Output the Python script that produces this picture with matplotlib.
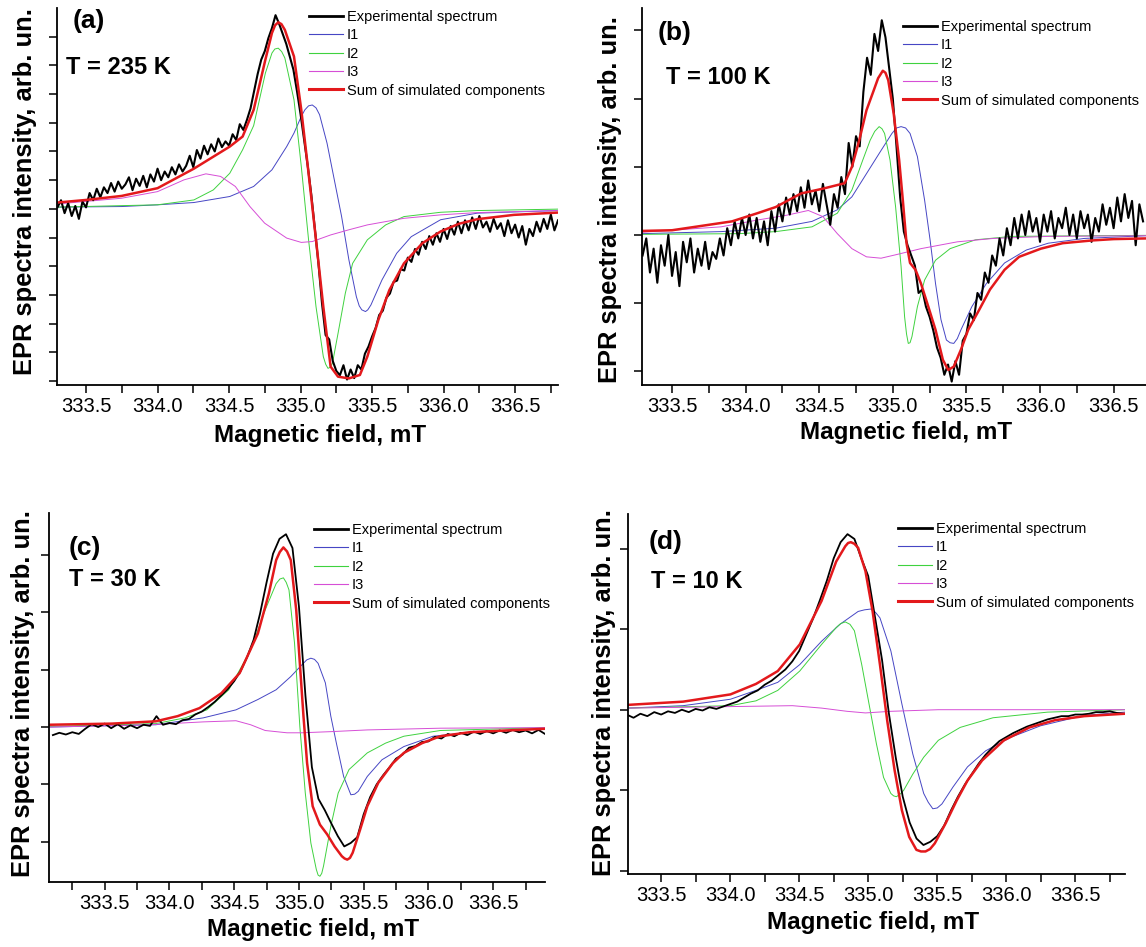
import numpy as np
import matplotlib.pyplot as plt
from matplotlib.ticker import MultipleLocator, NullFormatter

plt.rcParams['font.family'] = ['Liberation Sans', 'DejaVu Sans']

W, H = 1146, 947  # output size in pixels

# colours of the traces
col_exp = 'black'
col_i1 = '#4646c4'
col_i2 = '#3fd23f'
col_i3 = '#d64ed6'
col_sum = '#e3191c'

# ---------------- (a) T = 235 K ----------------
a_exp_range = (333.30, 336.80)
a_exp = [0.05, 0.30, -0.15, 0.20, -0.25, 0.10, -0.35, 0.25, 0.05, 0.55,
         0.30, 0.70, 0.40, 0.75, 0.55, 0.90, 0.60, 0.95, 0.70, 0.85,
         1.10, 0.65, 1.05, 0.80, 1.15, 0.75, 1.20, 0.95, 1.40, 1.00,
         1.30, 1.10, 1.45, 1.20, 1.55, 1.30, 1.50, 1.85, 1.45, 2.05,
         1.75, 2.20, 1.90, 2.25, 2.00, 2.45, 2.15, 2.35, 2.20, 2.60,
         2.40, 2.95, 2.75, 3.10, 3.50, 4.10, 4.70, 5.20, 5.50, 5.95,
         6.30, 6.75, 6.45, 6.10, 5.75, 5.30, 4.85, 4.10, 3.30, 2.40,
         1.50, 0.50, -0.70, -1.90, -3.30, -4.40, -4.55, -5.30, -5.65, -5.80,
         -5.45, -5.95, -5.60, -5.90, -5.45, -5.60, -5.05, -4.80, -4.45, -4.15,
         -3.70, -3.55, -3.10, -2.95, -2.55, -2.50, -2.10, -2.15, -1.70, -1.85,
         -1.40, -1.60, -1.15, -1.40, -0.95, -1.25, -0.85, -1.15, -0.70, -1.05,
         -0.60, -0.90, -0.45, -0.85, -0.40, -0.75, -0.30, -0.70, -0.25, -0.65,
         -0.45, -0.80, -0.35, -0.70, -0.50, -0.95, -0.40, -0.85, -0.55, -1.00,
         -0.60, -1.25, -0.70, -0.95, -0.45, -0.80, -0.35, -0.70, -0.20, -0.75,
         -0.40]
a_sum_x = [333.300, 333.500, 333.749, 334.000, 334.254, 334.505, 334.595, 334.672, 334.754,
           334.800, 334.822, 334.844, 334.866, 334.890, 334.954, 335.005, 335.056, 335.108,
           335.159, 335.210, 335.262, 335.338, 335.415, 335.467, 335.544, 335.621, 335.723,
           335.851, 335.979, 336.108, 336.236, 336.492, 336.800]
a_sum = [0.22, 0.31, 0.45, 0.72, 1.40, 2.17, 2.52, 3.45, 5.20, 6.13, 6.40, 6.50, 6.44, 6.24,
         5.31, 3.45, 1.24, -1.08, -3.41, -5.50, -5.85, -5.91, -5.79, -5.15, -3.87, -2.83,
         -1.90, -1.20, -0.79, -0.52, -0.36, -0.21, -0.13]
a_i1_x = [333.300, 333.749, 334.000, 334.254, 334.505, 334.672, 334.800, 334.903, 334.954,
          335.005, 335.030, 335.056, 335.082, 335.108, 335.133, 335.185, 335.236, 335.287,
          335.338, 335.390, 335.410, 335.428, 335.454, 335.470, 335.492, 335.569, 335.672,
          335.774, 335.979, 336.236, 336.800]
a_i1 = [0.06, 0.08, 0.14, 0.22, 0.43, 0.78, 1.36, 2.17, 2.64, 3.22, 3.45, 3.59, 3.62, 3.52,
        3.28, 2.29, 1.01, -0.27, -1.78, -3.06, -3.38, -3.52, -3.58, -3.52, -3.35, -2.48,
        -1.55, -0.97, -0.38, -0.15, -0.06]
a_i2_x = [333.300, 334.000, 334.254, 334.390, 334.505, 334.595, 334.672, 334.754, 334.800,
          334.820, 334.844, 334.868, 334.890, 334.954, 335.005, 335.056, 335.108, 335.159,
          335.176, 335.192, 335.208, 335.223, 335.262, 335.313, 335.364, 335.467, 335.595,
          335.723, 335.979, 336.236, 336.800]
a_i2 = [0.06, 0.14, 0.31, 0.66, 1.24, 2.06, 2.90, 4.73, 5.43, 5.57, 5.60, 5.48, 5.26, 3.80,
        1.48, -1.08, -3.41, -5.15, -5.42, -5.56, -5.52, -5.38, -4.34, -2.94, -1.90, -1.08,
        -0.56, -0.27, -0.12, -0.06, -0.01]
a_i3_x = [333.300, 333.749, 334.000, 334.185, 334.338, 334.441, 334.544, 334.646, 334.749,
          334.903, 335.005, 335.082, 335.210, 335.338, 335.467, 335.723, 335.979, 336.236, 336.800]
a_i3 = [0.17, 0.37, 0.60, 1.01, 1.22, 1.13, 0.78, 0.08, -0.50, -1.02, -1.17, -1.14, -0.91,
        -0.73, -0.56, -0.33, -0.21, -0.13, -0.06]

# ---------------- (b) T = 100 K ----------------
b_exp_range = (333.30, 336.70)
b_exp = [-0.30, -0.05, -0.55, -0.20, -0.70, -0.15, -0.45, 0.00, -0.60, -0.25,
         -0.75, -0.10, -0.40, -0.05, -0.55, -0.20, -0.45, -0.10, -0.50, -0.25,
         -0.35, -0.05, -0.30, 0.10, -0.15, 0.20, -0.05, 0.25, 0.00, 0.30,
         -0.05, 0.25, -0.10, 0.20, -0.15, 0.35, 0.05, 0.45, 0.20, 0.55,
         0.30, 0.60, 0.35, 0.70, 0.40, 0.80, 0.45, 0.65, 0.35, 0.75,
         0.45, 0.15, 0.60, 0.40, 0.85, 0.60, 1.35, 1.00, 1.45, 1.30,
         2.10, 2.60, 2.35, 2.95, 2.70, 3.15, 2.90, 2.45, 2.00, 1.30,
         0.55, 0.05, -0.15, -0.30, -0.45, -0.85, -0.80, -1.05, -1.20, -1.40,
         -1.65, -1.80, -2.05, -1.90, -2.15, -1.85, -2.05, -1.55, -1.45, -1.15,
         -1.25, -0.85, -0.95, -0.55, -0.70, -0.30, -0.45, -0.05, -0.30, 0.10,
         -0.15, 0.25, -0.05, 0.30, 0.00, 0.35, 0.05, 0.25, -0.10, 0.30,
         0.05, 0.35, -0.05, 0.25, 0.10, 0.40, 0.00, 0.30, -0.05, 0.35,
         0.10, 0.30, -0.10, 0.25, 0.05, 0.45, 0.15, 0.40, 0.10, 0.55,
         0.20, 0.60, 0.25, 0.50, -0.15, 0.45, 0.20]
b_sum_x = [333.296, 333.500, 333.907, 334.080, 334.204, 334.377, 334.525, 334.673, 334.722,
           334.772, 334.821, 334.870, 334.900, 334.932, 334.950, 334.969, 335.006, 335.043,
           335.068, 335.093, 335.117, 335.154, 335.191, 335.241, 335.290, 335.340, 335.377,
           335.414, 335.463, 335.512, 335.586, 335.660, 335.759, 335.858, 336.006, 336.154,
           336.352, 336.500, 336.720]
b_sum = [0.06, 0.07, 0.20, 0.32, 0.41, 0.61, 0.68, 0.76, 1.00, 1.39, 1.83, 2.12, 2.30, 2.41,
         2.38, 2.27, 1.78, 1.10, 0.51, -0.12, -0.41, -0.51, -0.71, -1.05, -1.39, -1.83, -1.98,
         -1.93, -1.68, -1.39, -1.10, -0.80, -0.51, -0.32, -0.20, -0.12, -0.08, -0.06, -0.05]
b_i1_x = [333.296, 333.833, 334.204, 334.451, 334.623, 334.722, 334.821, 334.920, 334.994,
          335.025, 335.056, 335.087, 335.117, 335.167, 335.216, 335.253, 335.290, 335.327,
          335.364, 335.389, 335.414, 335.438, 335.463, 335.537, 335.636, 335.759, 335.907,
          336.056, 336.302, 336.720]
b_i1 = [0.02, 0.05, 0.10, 0.20, 0.37, 0.56, 0.90, 1.24, 1.49, 1.57, 1.59, 1.57, 1.49, 1.15,
        0.51, -0.07, -0.71, -1.24, -1.54, -1.58, -1.59, -1.52, -1.39, -1.05, -0.71, -0.41,
        -0.22, -0.12, -0.05, -0.01]
b_i2_x = [333.296, 333.957, 334.204, 334.451, 334.623, 334.722, 334.796, 334.846, 334.877,
          334.907, 334.926, 334.944, 334.981, 335.019, 335.056, 335.080, 335.093, 335.105,
          335.117, 335.130, 335.167, 335.216, 335.290, 335.389, 335.562, 335.809, 336.720]
b_i2 = [0.01, 0.02, 0.05, 0.12, 0.32, 0.66, 1.10, 1.39, 1.52, 1.59, 1.56, 1.49, 1.10, 0.41,
        -0.46, -1.20, -1.45, -1.59, -1.58, -1.49, -1.05, -0.66, -0.37, -0.20, -0.07, -0.02,
        -0.005]
b_i3_x = [333.296, 333.833, 334.080, 334.278, 334.426, 334.525, 334.623, 334.722, 334.821,
          334.920, 335.019, 335.191, 335.438, 335.685, 336.056, 336.720]
b_i3 = [0.04, 0.12, 0.22, 0.29, 0.36, 0.27, 0.02, -0.20, -0.32, -0.34, -0.29, -0.20, -0.10,
        -0.05, -0.02, -0.01]

# ---------------- (c) T = 30 K ----------------
c_exp_range = (333.10, 336.90)
c_exp = [-0.14, -0.10, -0.13, -0.09, -0.12, -0.03, 0.05, 0.00, 0.06, -0.02,
         0.05, -0.03, 0.03, -0.02, 0.04, 0.02, 0.19, 0.04, 0.07, 0.05,
         0.12, 0.14, 0.22, 0.27, 0.35, 0.44, 0.55, 0.66, 0.80, 0.98,
         1.22, 1.52, 1.98, 2.52, 3.02, 3.28, 3.36, 3.12, 2.10, 0.55,
         -0.70, -1.25, -1.45, -1.68, -1.90, -2.08, -2.02, -1.92, -1.52, -1.22,
         -1.00, -0.84, -0.70, -0.55, -0.48, -0.36, -0.33, -0.26, -0.25, -0.17,
         -0.20, -0.12, -0.16, -0.10, -0.14, -0.08, -0.12, -0.07, -0.11, -0.06,
         -0.10, -0.05, -0.09, -0.06, -0.11, -0.05, -0.12]
c_sum_x = [333.070, 333.556, 333.894, 334.063, 334.232, 334.401, 334.542, 334.683, 334.768,
           334.824, 334.852, 334.880, 334.908, 334.937, 334.979, 335.007, 335.035, 335.063,
           335.106, 335.162, 335.218, 335.275, 335.331, 335.352, 335.373, 335.394, 335.415,
           335.472, 335.528, 335.613, 335.725, 335.810, 335.951, 336.092, 336.317, 336.599,
           336.900]
c_sum = [0.04, 0.06, 0.10, 0.19, 0.33, 0.59, 0.94, 1.63, 2.33, 2.91, 3.05, 3.13, 3.06, 2.91,
         2.04, 1.11, 0.19, -0.63, -1.38, -1.70, -1.87, -2.08, -2.25, -2.29, -2.31, -2.28,
         -2.19, -1.79, -1.38, -0.97, -0.63, -0.45, -0.28, -0.16, -0.09, -0.06, -0.03]
c_i1_x = [333.070, 333.894, 334.261, 334.514, 334.683, 334.824, 334.937, 335.021, 335.060,
          335.092, 335.120, 335.148, 335.204, 335.246, 335.289, 335.345, 335.401, 335.430,
          335.458, 335.528, 335.641, 335.810, 336.035, 336.373, 336.900]
c_i1 = [0.0, 0.04, 0.16, 0.30, 0.48, 0.65, 0.88, 1.08, 1.17, 1.20, 1.18, 1.11, 0.77, 0.19,
        -0.28, -0.86, -1.18, -1.17, -1.12, -0.86, -0.57, -0.34, -0.16, -0.08, -0.03]
c_i2_x = [333.070, 333.894, 334.120, 334.289, 334.458, 334.627, 334.739, 334.824, 334.853,
          334.880, 334.902, 334.923, 334.966, 335.007, 335.049, 335.092, 335.134, 335.148,
          335.162, 335.176, 335.190, 335.246, 335.303, 335.387, 335.528, 335.669, 335.810,
          336.092, 336.900]
c_i2 = [0.01, 0.06, 0.16, 0.30, 0.65, 1.34, 2.04, 2.50, 2.58, 2.60, 2.52, 2.39, 1.46, 0.01,
        -1.15, -2.02, -2.48, -2.58, -2.60, -2.55, -2.42, -1.73, -1.15, -0.74, -0.45, -0.28,
        -0.16, -0.06, -0.01]
c_i3_x = [333.070, 333.838, 334.261, 334.514, 334.627, 334.739, 334.908, 335.021, 335.246,
          335.528, 336.092, 336.900]
c_i3 = [0.0, 0.04, 0.09, 0.11, 0.04, -0.06, -0.10, -0.10, -0.08, -0.05, -0.02, -0.01]

# ---------------- (d) T = 10 K ----------------
d_exp_range = (333.25, 336.85)
d_exp = [-0.06, -0.10, -0.05, -0.08, -0.03, -0.06, -0.02, -0.04, 0.00, -0.03,
         0.01, -0.01, 0.03, 0.01, 0.04, 0.07, 0.10, 0.15, 0.20, 0.24,
         0.31, 0.36, 0.43, 0.50, 0.60, 0.73, 0.93, 1.13, 1.36, 1.60,
         1.88, 2.08, 2.18, 2.12, 1.88, 1.66, 1.14, 0.62, -0.05, -0.60,
         -1.08, -1.40, -1.60, -1.68, -1.64, -1.57, -1.44, -1.25, -1.08, -0.93,
         -0.80, -0.67, -0.56, -0.47, -0.39, -0.34, -0.29, -0.25, -0.21, -0.18,
         -0.15, -0.12, -0.10, -0.08, -0.08, -0.06, -0.06, -0.05, -0.03, -0.03,
         -0.02, -0.04, -0.05]
d_sum_x = [333.260, 333.659, 334.002, 334.187, 334.345, 334.504, 334.662, 334.768, 334.834,
           334.854, 334.874, 334.900, 334.927, 334.980, 335.032, 335.085, 335.138, 335.191,
           335.244, 335.297, 335.349, 335.382, 335.415, 335.448, 335.482, 335.561, 335.640,
           335.719, 335.825, 335.983, 336.168, 336.353, 336.565, 336.860]
d_sum = [0.06, 0.10, 0.19, 0.32, 0.48, 0.81, 1.35, 1.84, 2.03, 2.07, 2.08, 2.06, 2.01, 1.72,
         1.22, 0.56, -0.14, -0.75, -1.25, -1.58, -1.74, -1.76, -1.76, -1.73, -1.66, -1.41,
         -1.13, -0.88, -0.63, -0.38, -0.22, -0.13, -0.08, -0.05]
d_i1_x = [333.260, 333.659, 334.002, 334.187, 334.345, 334.504, 334.662, 334.795, 334.927,
          334.973, 335.019, 335.052, 335.085, 335.164, 335.244, 335.323, 335.402, 335.435,
          335.468, 335.500, 335.534, 335.614, 335.719, 335.851, 336.036, 336.248, 336.565,
          336.860]
d_i1 = [0.02, 0.05, 0.13, 0.24, 0.34, 0.56, 0.85, 1.06, 1.22, 1.24, 1.25, 1.21, 1.14, 0.73,
        0.07, -0.55, -1.04, -1.15, -1.23, -1.22, -1.17, -0.96, -0.71, -0.51, -0.34, -0.20,
        -0.07, -0.03]
d_i2_x = [333.260, 334.002, 334.187, 334.345, 334.504, 334.662, 334.768, 334.801, 334.834,
          334.868, 334.900, 334.953, 335.006, 335.059, 335.111, 335.164, 335.184, 335.204,
          335.230, 335.257, 335.323, 335.402, 335.508, 335.666, 335.904, 336.300, 336.860]
d_i2 = [0.02, 0.05, 0.11, 0.24, 0.48, 0.81, 1.02, 1.07, 1.09, 1.06, 0.98, 0.56, 0.07, -0.42,
        -0.84, -1.04, -1.07, -1.08, -1.05, -1.00, -0.80, -0.59, -0.38, -0.22, -0.10, -0.03, 0.0]
d_i3_x = [333.260, 333.659, 334.055, 334.451, 334.662, 334.847, 334.980, 335.164, 335.508, 336.860]
d_i3 = [0.02, 0.03, 0.04, 0.05, 0.02, -0.02, -0.04, -0.02, 0.0, 0.0]

legend_labels = ['Experimental spectrum', 'I1', 'I2', 'I3', 'Sum of simulated components']


def px_axes(fig, left, top, right, bottom):
    # place an axes from a pixel box measured on the picture
    return fig.add_axes([left / W, 1 - bottom / H, (right - left) / W, (bottom - top) / H])


def fig_text(fig, x, y, s, **kw):
    fig.text(x / W, 1 - y / H, s, **kw)


def draw_panel(fig, box, xlim, ylim, yticks, exp_range, exp, comps, total, exp_lw,
               legend_xy, tag, tag_xy, temp, temp_xy, ylab_xy, xlab_xy):
    ax = px_axes(fig, *box)
    exp_x = np.linspace(exp_range[0], exp_range[1], len(exp))

    lines = []
    for (cx, cy), col in zip(comps, [col_i1, col_i2, col_i3]):
        ln, = ax.plot(cx, cy, color=col, lw=0.7)
        lines.append(ln)
    l_exp, = ax.plot(exp_x, exp, color=col_exp, lw=exp_lw)
    l_sum, = ax.plot(total[0], total[1], color=col_sum, lw=1.8)

    ax.set_xlim(*xlim)
    ax.set_ylim(*ylim)
    ax.spines['top'].set_visible(False)
    ax.spines['right'].set_visible(False)
    for s in ['left', 'bottom']:
        ax.spines[s].set_linewidth(1.3)
    ax.xaxis.set_major_locator(MultipleLocator(0.5))
    ax.xaxis.set_minor_locator(MultipleLocator(0.25))
    ax.xaxis.set_major_formatter(plt.FormatStrFormatter('%.1f'))
    ax.set_yticks(yticks)
    ax.yaxis.set_major_formatter(NullFormatter())
    ax.tick_params(which='both', direction='out', length=5.8, width=1.1)
    ax.tick_params(axis='x', which='major', labelsize=14.5, pad=3)

    leg = ax.legend([l_exp] + lines + [l_sum], legend_labels, loc='upper left',
                    bbox_to_anchor=(legend_xy[0] / W, 1 - legend_xy[1] / H),
                    bbox_transform=fig.transFigure, frameon=False, fontsize=10.5,
                    borderpad=0, borderaxespad=0, handlelength=2.3, handletextpad=0.3,
                    labelspacing=0.3)
    # legend line widths a bit heavier than the plotted components
    for h, lw in zip(leg.get_lines(), [2.0, 0.8, 0.8, 0.8, 2.2]):
        h.set_linewidth(lw)

    fig_text(fig, tag_xy[0], tag_xy[1], tag, fontsize=19, fontweight='bold', va='center')
    fig_text(fig, temp_xy[0], temp_xy[1], temp, fontsize=17, fontweight='bold', va='center')
    fig_text(fig, ylab_xy[0], ylab_xy[1], 'EPR spectra intensity, arb. un.', fontsize=18.4,
             fontweight='bold', rotation=90, ha='center', va='center')
    fig_text(fig, xlab_xy[0], xlab_xy[1], 'Magnetic field, mT', fontsize=17.5,
             fontweight='bold', ha='center', va='center')
    return ax


fig = plt.figure(figsize=(W / 100, H / 100), dpi=100)

draw_panel(fig, (57, 8, 558, 385), (333.297, 336.80), (-6.14, 7.0), range(-6, 7),
           a_exp_range, a_exp, [(a_i1_x, a_i1), (a_i2_x, a_i2), (a_i3_x, a_i3)],
           (a_sum_x, a_sum), 1.5, (309, 10), '(a)', (73, 21), 'T = 235 K', (66, 67),
           (25, 192), (320, 435))
draw_panel(fig, (642, 8, 1146, 385), (333.296, 336.72), (-2.2, 3.33), range(-2, 4),
           b_exp_range, b_exp, [(b_i1_x, b_i1), (b_i2_x, b_i2), (b_i3_x, b_i3)],
           (b_sum_x, b_sum), 1.5, (903, 20), '(b)', (658, 33), 'T = 100 K', (666, 77),
           (610, 200), (906, 433))
draw_panel(fig, (49, 513, 545, 882), (333.07, 336.90), (-2.70, 3.73), range(-2, 4),
           c_exp_range, c_exp, [(c_i1_x, c_i1), (c_i2_x, c_i2), (c_i3_x, c_i3)],
           (c_sum_x, c_sum), 1.3, (314, 523), '(c)', (69, 548), 'T = 30 K', (69, 579),
           (23, 694), (313, 929))
draw_panel(fig, (628, 514, 1125, 874), (333.26, 336.86), (-2.04, 2.43), range(-2, 3),
           d_exp_range, d_exp, [(d_i1_x, d_i1), (d_i2_x, d_i2), (d_i3_x, d_i3)],
           (d_sum_x, d_sum), 1.3, (898, 522), '(d)', (649, 542), 'T = 10 K', (651, 582),
           (604, 693), (873, 922))

fig.savefig('out.png', dpi=100)
